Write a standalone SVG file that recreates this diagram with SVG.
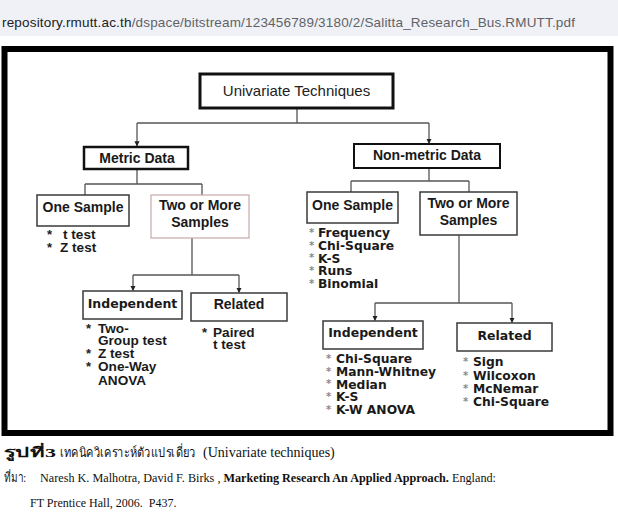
<svg xmlns="http://www.w3.org/2000/svg" width="618" height="514" viewBox="0 0 618 514">
<style>
.bx{fill:#fff;stroke:#3a3a3a;stroke-width:1.5}
.tl{font-family:"Liberation Sans",Arial,sans-serif;font-weight:bold;font-size:14px;fill:#1a1a1a;text-anchor:middle}
.tv{font-family:"DejaVu Sans",Verdana,sans-serif;font-weight:bold;font-size:12.5px;fill:#1a1a1a;text-anchor:middle}
.il{font-family:"Liberation Sans",Arial,sans-serif;font-weight:bold;font-size:13.6px;fill:#1a1a1a}
.ir{font-family:"DejaVu Sans",Verdana,sans-serif;font-weight:bold;font-size:12.3px;fill:#1a1a1a}
.al{font-family:"Liberation Sans",Arial,sans-serif;font-weight:bold;font-size:13px;fill:#222}
.ar{font-family:"DejaVu Sans",Verdana,sans-serif;font-weight:bold;font-size:10px;fill:#8a8a8a}
.cn{fill:none;stroke:#555;stroke-width:1.3}
.cap{font-family:"Liberation Serif","Times New Roman",serif;fill:#111}
</style>
<defs>
<marker id="ah" viewBox="0 0 6 6" refX="5.5" refY="3" markerWidth="4" markerHeight="4" orient="auto">
<path d="M0,0 L6,3 L0,6 z" fill="#222"/>
</marker>
</defs>
<rect x="0" y="0" width="618" height="514" fill="#fff"/>
<g id="urlbar">
<rect x="0" y="0" width="618" height="36" fill="#eff1f6"/>
<text x="2" y="26.5" font-family="'Liberation Sans',Arial,sans-serif" font-size="13.5" textLength="573" lengthAdjust="spacing"><tspan fill="#202124">repository.rmutt.ac.th</tspan><tspan fill="#5f6368">/dspace/bitstream/123456789/3180/2/Salitta_Research_Bus.RMUTT.pdf</tspan></text>
</g>
<rect x="4.5" y="49" width="606" height="384" fill="#fff" stroke="#000" stroke-width="6"/>
<g id="connectors">
<path class="cn" d="M297,108 V123 M137,123 H429"/>
<path class="cn" d="M137,123 V146" marker-end="url(#ah)"/>
<path class="cn" d="M429,123 V143.5" marker-end="url(#ah)"/>
<path class="cn" d="M137,169 V184 M85,184 H202 M85,184 V195 M202,184 V195"/>
<path class="cn" d="M192,238 V275 M133,275 H239"/>
<path class="cn" d="M133,275 V290.5" marker-end="url(#ah)"/>
<path class="cn" d="M239,275 V292.5" marker-end="url(#ah)"/>
<path class="cn" d="M429,168 V181 M351,181 H469 M351,181 V192 M469,181 V192"/>
<path class="cn" d="M459,235 V303 M375,303 H512"/>
<path class="cn" d="M375,303 V320.5" marker-end="url(#ah)"/>
<path class="cn" d="M512,303 V322.5" marker-end="url(#ah)"/>
</g>
<g id="univariate">
<rect x="200" y="74" width="193" height="34" fill="#fff" stroke="#111" stroke-width="3"/>
<text x="296.5" y="95.5" font-family="'Liberation Sans',Arial,sans-serif" font-size="15" fill="#222" text-anchor="middle">Univariate Techniques</text>
</g>
<g id="metric">
<rect x="84" y="147" width="104" height="22" fill="#fff" stroke="#111" stroke-width="2.5"/>
<text class="tl" x="137" y="162.5">Metric Data</text>
</g>
<g id="nonmetric">
<rect x="354" y="144" width="146" height="24" fill="#fff" stroke="#111" stroke-width="2"/>
<text class="tl" x="427" y="159.5" font-size="14.5">Non-metric Data</text>
</g>
<g id="metric-one">
<rect class="bx" x="37" y="195" width="92" height="31"/>
<text class="tl" x="83" y="212">One Sample</text>
<text class="al" x="47" y="239">*</text>
<text class="il" x="63" y="239">t test</text>
<text class="al" x="47" y="252">*</text>
<text class="il" x="60" y="252">Z test</text>
</g>
<g id="metric-two">
<rect x="151" y="195" width="98" height="43" fill="#fff" stroke="#c9aaaa" stroke-width="1.2"/>
<text class="tl" x="200" y="210">Two or More</text>
<text class="tl" x="200" y="226.5">Samples</text>
</g>
<g id="metric-indep">
<rect class="bx" x="83" y="291" width="99" height="28"/>
<text class="tv" x="132.5" y="307.5">Independent</text>
<text class="al" x="86" y="333">*</text>
<text class="il" x="98" y="333">Two-</text>
<text class="il" x="98" y="345">Group test</text>
<text class="al" x="86" y="358">*</text>
<text class="il" x="98" y="358">Z test</text>
<text class="al" x="86" y="371">*</text>
<text class="il" x="98" y="371">One-Way</text>
<text class="il" x="98" y="384.5">ANOVA</text>
</g>
<g id="metric-related">
<rect class="bx" x="191" y="293" width="96" height="28"/>
<text class="tl" x="239" y="309">Related</text>
<text class="al" x="202" y="337">*</text>
<text class="il" x="213" y="337">Paired</text>
<text class="il" x="213" y="349">t test</text>
</g>
<g id="nonmetric-one">
<rect class="bx" x="307" y="192" width="91" height="31"/>
<text class="tl" x="352.5" y="210">One Sample</text>
<text class="ar" x="309" y="235.5">*</text><text class="ir" x="318" y="237">Frequency</text>
<text class="ar" x="309" y="248.5">*</text><text class="ir" x="318" y="250">Chi-Square</text>
<text class="ar" x="309" y="261">*</text><text class="ir" x="318" y="262.5">K-S</text>
<text class="ar" x="309" y="273.5">*</text><text class="ir" x="318" y="275">Runs</text>
<text class="ar" x="309" y="286.5">*</text><text class="ir" x="318" y="288">Binomial</text>
</g>
<g id="nonmetric-two">
<rect class="bx" x="420" y="192" width="97" height="43"/>
<text class="tl" x="468.5" y="208">Two or More</text>
<text class="tl" x="468.5" y="225">Samples</text>
</g>
<g id="nonmetric-indep">
<rect class="bx" x="323" y="321" width="100" height="28"/>
<text class="tv" x="373" y="337">Independent</text>
<text class="ar" x="326" y="361.5">*</text><text class="ir" x="336" y="363">Chi-Square</text>
<text class="ar" x="326" y="374.5">*</text><text class="ir" x="336" y="376">Mann-Whitney</text>
<text class="ar" x="326" y="387">*</text><text class="ir" x="336" y="388.5">Median</text>
<text class="ar" x="326" y="399.5">*</text><text class="ir" x="336" y="401">K-S</text>
<text class="ar" x="326" y="412.5">*</text><text class="ir" x="336" y="414">K-W ANOVA</text>
</g>
<g id="nonmetric-related">
<rect class="bx" x="457" y="323" width="95" height="28"/>
<text class="tv" x="504.5" y="340">Related</text>
<text class="ar" x="463" y="364.5">*</text><text class="ir" x="473" y="366">Sign</text>
<text class="ar" x="463" y="378.5">*</text><text class="ir" x="473" y="380">Wilcoxon</text>
<text class="ar" x="463" y="391.5">*</text><text class="ir" x="473" y="393">McNemar</text>
<text class="ar" x="463" y="404.5">*</text><text class="ir" x="473" y="406">Chi-Square</text>
</g>
<g id="caption">
<text class="cap" x="4" y="457" font-size="13.5" font-weight="bold" textLength="52" lengthAdjust="spacingAndGlyphs">รูปที่3</text>
<text class="cap" x="60" y="457" font-size="13.5" textLength="136" lengthAdjust="spacingAndGlyphs">เทคนิควิเคราะห์ตัวแปรเดี่ยว</text>
<text class="cap" x="203" y="457" font-size="14">(Univariate techniques)</text>
<text class="cap" x="4" y="482" font-size="13" textLength="22" lengthAdjust="spacingAndGlyphs">ที่มา:</text>
<text class="cap" x="40" y="482" font-size="12.2">Naresh K. Malhotra, David F. Birks , <tspan font-weight="bold">Marketing Research An Applied Approach.</tspan> England:</text>
<text class="cap" x="30" y="507" font-size="12" xml:space="preserve">FT Prentice Hall, 2006.  P437.</text>
</g>
</svg>
